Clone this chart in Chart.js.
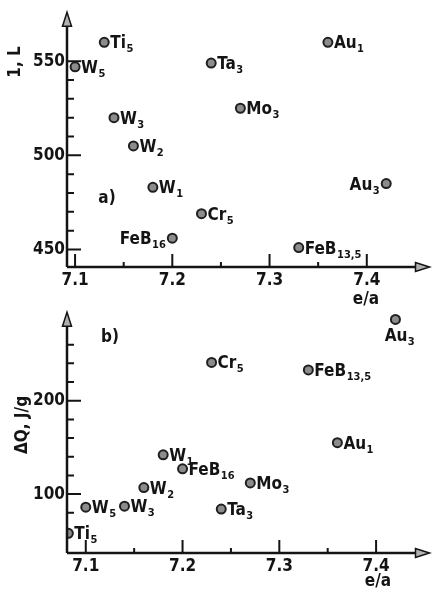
<!DOCTYPE html>
<html>
<head>
<meta charset="utf-8">
<script src="https://cdn.jsdelivr.net/npm/chart.js@4.4.1/dist/chart.umd.min.js"></script>
<style>
  html, body { margin: 0; padding: 0; background: #fff; }
  #wrap { position: relative; width: 436px; height: 600px; }
  canvas { position: absolute; left: 0; }
  #chart-a { top: 0; }
  #chart-b { top: 300px; }
</style>
</head>
<body>
<div id="wrap">
  <canvas id="chart-a" width="436" height="312"></canvas>
  <canvas id="chart-b" width="436" height="300"></canvas>
</div>
<script>
// panel a) : 1, L against e/a
const samplesA = ['Ti_5', 'W_5', 'W_3', 'W_2', 'W_1', 'Cr_5', 'FeB_16', 'Ta_3', 'Mo_3', 'Au_1', 'Au_3', 'FeB_13,5'];
const eaA = [7.13, 7.10, 7.14, 7.16, 7.18, 7.23, 7.20, 7.24, 7.27, 7.36, 7.42, 7.33];
const lA = [560, 547, 520, 505, 483, 469, 456, 549, 525, 560, 485, 451];

// panel b) : ΔQ against e/a
const samplesB = ['Ti_5', 'W_5', 'W_3', 'W_2', 'W_1', 'FeB_16', 'Cr_5', 'FeB_13,5', 'Au_3', 'Au_1', 'Mo_3', 'Ta_3'];
const eaB = [7.082, 7.10, 7.14, 7.16, 7.18, 7.20, 7.23, 7.33, 7.42, 7.36, 7.27, 7.24];
const dqB = [58, 86, 87, 107, 142, 127, 241, 233, 287, 155, 112, 84];

const xTicks = [7.1, 7.15, 7.2, 7.25, 7.3, 7.35, 7.4];
const xLabels = [7.1, 7.2, 7.3, 7.4];
const yTicksA = [450, 460, 470, 480, 490, 500, 510, 520, 530, 540, 550];
const yLabelsA = [450, 500, 550];
const yTicksB = [80, 100, 120, 140, 160, 180, 200, 220, 240, 260];
const yLabelsB = [100, 200];

const FONT = '"DejaVu Sans Condensed", "Liberation Sans Narrow", "DejaVu Sans", sans-serif';
const WEIGHT = 'bold';
const INK = '#141414';

function drawArrow(ctx, x, y, dir) {
    ctx.beginPath();
    if (dir === 'up') {
        ctx.moveTo(x, y);
        ctx.lineTo(x - 4.5, y + 14);
        ctx.lineTo(x + 4.5, y + 14);
    } else {
        ctx.moveTo(x, y);
        ctx.lineTo(x - 14, y - 4.5);
        ctx.lineTo(x - 14, y + 4.5);
    }
    ctx.closePath();
    ctx.fillStyle = '#b0b0b0';
    ctx.fill();
    ctx.lineWidth = 1.5;
    ctx.stroke();
}

// axis lines, inward ticks and arrow heads
const axesPlugin = {
    id: 'axes',
    afterDraw(chart, args, opts) {
        const { ctx, chartArea: a, scales: { x, y } } = chart;
        ctx.save();
        ctx.strokeStyle = INK;
        ctx.lineWidth = 2.5;
        ctx.beginPath();
        ctx.moveTo(a.left, a.bottom);
        ctx.lineTo(a.left, a.top + 8);
        ctx.moveTo(a.left, a.bottom);
        ctx.lineTo(a.right - 8, a.bottom);
        ctx.stroke();

        ctx.lineWidth = 2;
        ctx.beginPath();
        y.ticks.forEach(t => {
            const py = y.getPixelForValue(t.value);
            const len = opts.yMajor.includes(t.value) ? 14 : 7;
            ctx.moveTo(a.left, py);
            ctx.lineTo(a.left + len, py);
        });
        x.ticks.forEach(t => {
            const px = x.getPixelForValue(t.value);
            const len = xLabels.includes(t.value) ? 13 : 5;
            ctx.moveTo(px, a.bottom);
            ctx.lineTo(px, a.bottom - len);
        });
        ctx.stroke();

        drawArrow(ctx, a.left, a.top, 'up');
        drawArrow(ctx, a.right, a.bottom, 'right');

        // free texts: axis titles, panel letters
        ctx.fillStyle = INK;
        ctx.textAlign = 'center';
        ctx.textBaseline = 'middle';
        (opts.notes || []).forEach(n => {
            ctx.save();
            ctx.font = `${WEIGHT} 17px ${FONT}`;
            ctx.translate(n.x, n.y);
            if (n.rot) ctx.rotate(-Math.PI / 2);
            ctx.fillText(n.text, 0, 0);
            ctx.restore();
        });
        ctx.restore();
    }
};

function drawLabel(ctx, text, px, py, side) {
    const [main, sub] = text.split('_');
    ctx.font = `${WEIGHT} 17px ${FONT}`;
    const wm = ctx.measureText(main).width;
    ctx.font = `${WEIGHT} 11px ${FONT}`;
    const ws = ctx.measureText(sub).width;
    let x0, base;
    if (side === 'left') {
        x0 = px - 7 - wm - ws;
        base = py + 6;
    } else if (side === 'below') {
        x0 = px - (wm + ws) / 2 + 4;
        base = py + 22;
    } else {
        x0 = px + 6;
        base = py + 6;
    }
    ctx.font = `${WEIGHT} 17px ${FONT}`;
    ctx.fillText(main, x0, base);
    ctx.font = `${WEIGHT} 11px ${FONT}`;
    ctx.fillText(sub, x0 + wm + 0.5, base + 4);
}

const pointLabels = {
    id: 'pointLabels',
    afterDatasetsDraw(chart, args, opts) {
        const { ctx } = chart;
        const meta = chart.getDatasetMeta(0);
        ctx.save();
        ctx.fillStyle = INK;
        ctx.textAlign = 'left';
        ctx.textBaseline = 'alphabetic';
        meta.data.forEach((pt, i) => {
            const name = opts.names[i];
            drawLabel(ctx, name, pt.x, pt.y, opts.sides[name] || 'right');
        });
        ctx.restore();
    }
};

function makeChart(id, cfg) {
    return new Chart(document.getElementById(id), {
        type: 'scatter',
        data: {
            datasets: [{
                data: cfg.xs.map((v, i) => ({ x: v, y: cfg.ys[i] })),
                pointRadius: 4.5,
                pointHoverRadius: 4.5,
                pointBackgroundColor: '#8c8c8c',
                pointBorderColor: '#202020',
                pointBorderWidth: 2
            }]
        },
        options: {
            responsive: false,
            animation: false,
            devicePixelRatio: 1,
            layout: { padding: { top: cfg.top, right: 1, left: 0, bottom: 0 } },
            plugins: {
                legend: { display: false },
                tooltip: { enabled: false },
                axes: { yMajor: cfg.yLabels, notes: cfg.notes },
                pointLabels: { names: cfg.names, sides: cfg.sides }
            },
            scales: {
                x: {
                    type: 'linear',
                    min: cfg.xMin,
                    max: cfg.xMax,
                    grid: { display: false, drawTicks: false },
                    border: { display: false },
                    afterBuildTicks: s => { s.ticks = xTicks.map(v => ({ value: v })); },
                    afterFit: s => { s.height = cfg.xHeight; },
                    ticks: {
                        padding: 3,
                        color: INK,
                        font: { family: FONT, size: 17, weight: WEIGHT },
                        callback: v => xLabels.includes(v) ? v.toFixed(1) : ''
                    }
                },
                y: {
                    min: cfg.yMin,
                    max: cfg.yMax,
                    grid: { display: false, drawTicks: false },
                    border: { display: false },
                    afterBuildTicks: s => { s.ticks = cfg.yTicks.map(v => ({ value: v })); },
                    afterFit: s => { s.width = 67; },
                    ticks: {
                        padding: 2,
                        color: INK,
                        font: { family: FONT, size: 17, weight: WEIGHT },
                        callback: v => cfg.yLabels.includes(v) ? String(v) : ''
                    }
                }
            }
        },
        plugins: [axesPlugin, pointLabels]
    });
}

makeChart('chart-a', {
    xs: eaA, ys: lA, names: samplesA,
    sides: { 'FeB_16': 'left', 'Au_3': 'left' },
    xMin: 7.0917, xMax: 7.4645, yMin: 440.7, yMax: 576,
    yTicks: yTicksA, yLabels: yLabelsA,
    top: 6, xHeight: 45,
    notes: [
        { text: '1, L', x: 16, y: 62, rot: true },
        { text: 'a)', x: 107, y: 199 },
        { text: 'e/a', x: 366, y: 300 }
    ]
});

makeChart('chart-b', {
    xs: eaB, ys: dqB, names: samplesB,
    sides: { 'Au_3': 'below' },
    xMin: 7.0806, xMax: 7.4552, yMin: 36.9, yMax: 294.8,
    yTicks: yTicksB, yLabels: yLabelsB,
    top: 3, xHeight: 47,
    notes: [
        { text: 'ΔQ, J/g', x: 23, y: 125, rot: true },
        { text: 'b)', x: 110, y: 38 },
        { text: 'e/a', x: 378, y: 282 }
    ]
});
</script>
</body>
</html>
